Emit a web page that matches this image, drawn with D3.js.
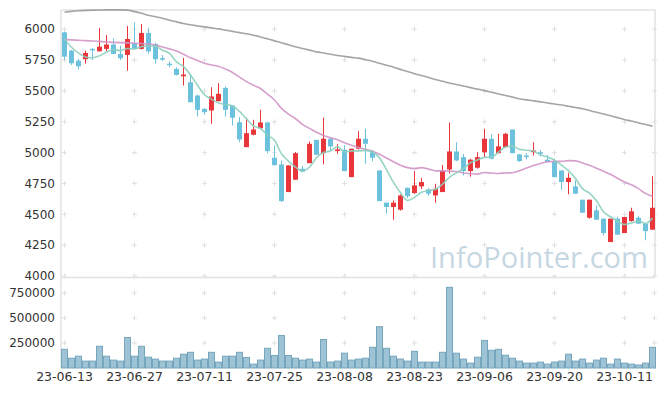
<!DOCTYPE html>
<meta charset="utf-8">
<style>
body { margin: 0; background: #fff; }
text { font-family: "DejaVu Sans", sans-serif; }
</style>
<body>
<svg id="chart" width="665" height="396"></svg>
</body>
<script src="https://d3js.org/d3.v7.min.js"></script>
<script>
// trading days (yy-mm-dd)
const dates = [
  "23-06-13","23-06-14","23-06-15","23-06-16","23-06-19","23-06-20","23-06-21","23-06-22","23-06-23","23-06-26",
  "23-06-27","23-06-28","23-06-29","23-06-30","23-07-03","23-07-04","23-07-05","23-07-06","23-07-07","23-07-10",
  "23-07-11","23-07-12","23-07-13","23-07-14","23-07-17","23-07-18","23-07-19","23-07-20","23-07-21","23-07-24",
  "23-07-25","23-07-26","23-07-27","23-07-28","23-07-31","23-08-01","23-08-02","23-08-03","23-08-04","23-08-07",
  "23-08-08","23-08-09","23-08-10","23-08-11","23-08-14","23-08-16","23-08-17","23-08-18","23-08-21","23-08-22",
  "23-08-23","23-08-24","23-08-25","23-08-28","23-08-29","23-08-30","23-08-31","23-09-01","23-09-04","23-09-05",
  "23-09-06","23-09-07","23-09-08","23-09-11","23-09-12","23-09-13","23-09-14","23-09-15","23-09-18","23-09-19",
  "23-09-20","23-09-21","23-09-22","23-09-25","23-09-26","23-09-27","23-10-04","23-10-05","23-10-06","23-10-10",
  "23-10-11","23-10-12","23-10-13","23-10-16","23-10-17"
];
const openP = [
  5974,5826,5745,5756,5840,5820,5840,5875,5799,5791,5885,5840,5969,5880,5765,5720,5678,5618,5570,5462,
  5354,5341,5416,5524,5381,5246,5044,5144,5197,5244,4958,4904,4680,4780,4869,4914,5103,4995,5112,5012,
  5023,4801,5031,5112,5003,4855,4594,4559,4537,4715,4672,4726,4702,4653,4680,4863,5009,4963,4850,4877,
  5003,5112,4995,5044,5187,4985,4975,5003,5003,4942,4930,4855,4761,4726,4618,4472,4532,4464,4275,4464,
  4348,4445,4472,4424,4375
];
const highP = [
  5980,5830,5760,5826,5845,6010,5952,5925,5866,6026,6055,6042,6010,5890,5790,5740,5690,5767,5632,5470,
  5360,5529,5562,5535,5381,5286,5282,5265,5346,5250,5057,4935,4896,5005,4890,5090,5103,5282,5120,5071,
  5060,5031,5173,5193,5020,4855,4594,4612,4660,4715,4850,4795,4710,4747,4900,5244,5084,4990,4950,5003,
  5193,5147,5152,5160,5187,4990,4995,5084,5020,4980,4950,4855,4836,4774,4618,4618,4572,4470,4464,4480,
  4480,4553,4485,4430,4809
];
const lowP = [
  5751,5710,5672,5720,5750,5820,5820,5800,5750,5662,5840,5835,5800,5720,5740,5690,5625,5543,5408,5292,
  5306,5233,5416,5292,5219,5084,5044,5140,5197,4995,4895,4600,4680,4780,4840,4914,4982,4904,5012,4990,
  4850,4801,5025,4909,4930,4607,4505,4456,4530,4630,4665,4705,4650,4594,4680,4830,4930,4815,4805,4870,
  4963,4945,4995,5040,4995,4925,4945,4976,4970,4920,4800,4699,4661,4667,4513,4465,4456,4329,4275,4335,
  4348,4440,4420,4289,4375
];
const closeP = [
  5777,5723,5699,5807,5832,5858,5875,5799,5764,5920,5840,5969,5820,5756,5759,5713,5629,5632,5408,5346,
  5327,5454,5476,5346,5282,5106,5157,5187,5244,5012,4898,4607,4896,4995,4847,5071,4982,5112,5050,5025,
  4850,5031,5112,5071,4958,4607,4559,4594,4653,4647,4734,4761,4667,4707,4855,5009,4936,4850,4942,4963,
  5112,4950,5050,5152,4995,4931,4965,5017,4990,4923,4801,4761,4796,4667,4513,4618,4456,4348,4464,4335,
  4478,4524,4424,4364,4553
];
const volume = [
  187000,98000,118000,69000,69000,217000,118000,79000,69000,305000,118000,217000,108000,89000,69000,69000,98000,138000,157000,79000,
  89000,157000,59000,118000,118000,157000,105000,39000,79000,197000,125000,325000,125000,98000,79000,89000,59000,285000,59000,69000,
  148000,79000,89000,98000,207000,413000,197000,118000,89000,69000,167000,59000,59000,59000,157000,807000,148000,89000,49000,108000,
  276000,177000,187000,128000,98000,69000,49000,49000,59000,39000,59000,69000,138000,69000,89000,49000,79000,98000,39000,89000,
  49000,39000,30000,49000,207000
];
const ma5 = [
  5921,5853,5805,5775,5768,5784,5814,5834,5826,5843,5840,5858,5863,5861,5829,5803,5735,5698,5628,5546,
  5468,5433,5402,5390,5377,5333,5273,5216,5195,5141,5100,4990,4931,4882,4849,4883,4958,5001,5012,5048,
  5004,5014,5014,5018,5004,4956,4861,4758,4674,4612,4637,4678,4692,4703,4745,4800,4835,4871,4918,4940,
  4961,4963,5003,5045,5052,5026,5019,5012,4980,4965,4939,4898,4854,4790,4708,4671,4610,4520,4480,4444,
  4416,4430,4445,4425,4469
];
const ma20 = [
  5915,5913,5910,5907,5904,5900,5896,5893,5891,5889,5886,5883,5879,5870,5856,5840,5822,5797,5768,5746,
  5724,5710,5699,5676,5649,5611,5575,5545,5519,5473,5426,5358,5312,5274,5228,5196,5164,5138,5120,5104,
  5080,5059,5041,5027,5011,4986,4956,4926,4897,4878,4870,4878,4866,4852,4852,4849,4847,4834,4828,4825,
  4838,4834,4831,4835,4837,4853,4874,4895,4912,4925,4929,4929,4935,4933,4916,4897,4873,4848,4824,4792,
  4761,4739,4708,4669,4646
];
const ma60 = [
  6137,6144,6149,6152,6154,6155,6156,6156,6156,6154,6142,6128,6112,6100,6088,6072,6059,6046,6035,6026,
  6018,6010,6002,5992,5982,5972,5962,5950,5937,5922,5905,5890,5873,5857,5843,5830,5816,5807,5796,5786,
  5779,5771,5765,5752,5740,5723,5707,5692,5674,5656,5639,5624,5608,5592,5578,5563,5551,5539,5526,5514,
  5502,5489,5475,5462,5449,5436,5427,5419,5411,5402,5393,5385,5375,5365,5355,5341,5326,5312,5298,5283,
  5268,5255,5241,5227,5214
];
const priceTicks = [4000,4250,4500,4750,5000,5250,5500,5750,6000];
const volTicks = [250000,500000,750000];
const dateTicks = ["23-06-13","23-06-27","23-07-11","23-07-25","23-08-08","23-08-23","23-09-06","23-09-20","23-10-11"];

const data = dates.map((d, i) => ({
  date: d, open: openP[i], high: highP[i], low: lowP[i], close: closeP[i],
  vol: volume[i], ma5: ma5[i], ma20: ma20[i], ma60: ma60[i]
}));

const svg = d3.select('#chart');
const left = 61, right = 656;
const pTop = 10, pBottom = 277, vBottom = 368;

const x = d3.scaleBand().domain(dates).range([left, right]).padding(0);
const y = d3.scaleLinear().domain([4000, 6155]).range([276, pTop]);
const yv = d3.scaleLinear().domain([0, 880000]).range([vBottom, 280]);

const frame = '#e2e2e2';
const gridC = '#e0e0e0';

// watermark
svg.append('text')
  .attr('x', 430).attr('y', 268)
  .attr('textLength', 218).attr('lengthAdjust', 'spacingAndGlyphs')
  .style('font-family', '"Open Sans", sans-serif')
  .style('font-size', '30px')
  .attr('fill', '#c6d7e2')
  .text('InfoPointer.com');

// grid crosses
const gx = dateTicks.map(d => x(d) + x.bandwidth() / 2).concat([right - 1.5]);
const crosses = [];
gx.forEach(cx => {
  priceTicks.forEach(t => crosses.push([cx, y(t)]));
  volTicks.forEach(t => crosses.push([cx, yv(t)]));
});
svg.append('g').selectAll('path').data(crosses).enter().append('path')
  .attr('d', d => `M${d[0]-2.5},${d[1]}H${d[0]+2.5}M${d[0]},${d[1]-2.5}V${d[1]+2.5}`)
  .attr('stroke', gridC).attr('stroke-width', 1).attr('fill', 'none');

// frames
svg.append('path')
  .attr('d', `M${left},${pTop}H${right - 1}V${pBottom}M${left},${pTop}V${vBottom}M${left},${pBottom + 0.5}H${right - 1}`)
  .attr('stroke', frame).attr('stroke-width', 1.5).attr('fill', 'none');

// volume bars
svg.append('g').selectAll('rect').data(data).enter().append('rect')
  .attr('x', d => x(d.date) + 0.5)
  .attr('width', x.bandwidth() - 1)
  .attr('y', d => yv(d.vol))
  .attr('height', d => yv(0) - yv(d.vol))
  .attr('fill', '#9dc3d4')
  .attr('stroke', '#76a6be')
  .attr('stroke-width', 1);

// candles
const up = '#e8363b', down = '#6cc2dc';
const candle = svg.append('g').selectAll('g').data(data).enter().append('g');
candle.append('line')
  .attr('x1', d => x(d.date) + x.bandwidth() / 2)
  .attr('x2', d => x(d.date) + x.bandwidth() / 2)
  .attr('y1', d => y(d.high)).attr('y2', d => y(d.low))
  .attr('stroke', d => d.close >= d.open ? up : down)
  .attr('stroke-width', 1);
candle.append('rect')
  .attr('x', d => x(d.date) + 1)
  .attr('width', x.bandwidth() - 2)
  .attr('y', d => y(Math.max(d.open, d.close)))
  .attr('height', d => Math.max(1.5, Math.abs(y(d.open) - y(d.close))))
  .attr('fill', d => d.close >= d.open ? up : down);

// moving averages
const lineOf = key => d3.line()
  .x(d => x(d.date) + x.bandwidth() / 2)
  .y(d => y(d[key]))
  .curve(d3.curveMonotoneX);
[['ma60', '#9b9b9b'], ['ma20', '#d293c8'], ['ma5', '#8ccfbe']].forEach(([k, c]) => {
  svg.append('path').datum(data)
    .attr('d', lineOf(k))
    .attr('fill', 'none')
    .attr('stroke', c)
    .attr('stroke-width', 1.6)
    .attr('opacity', 0.9);
});

// axes
const yAxis = svg.append('g')
  .attr('transform', `translate(${left},0)`)
  .call(d3.axisLeft(y).tickValues(priceTicks).tickFormat(d3.format('d')).tickSize(0).tickPadding(6));
const vAxis = svg.append('g')
  .attr('transform', `translate(${left},0)`)
  .call(d3.axisLeft(yv).tickValues(volTicks).tickFormat(d3.format('d')).tickSize(0).tickPadding(6));
const xAxis = svg.append('g')
  .attr('transform', `translate(0,${vBottom})`)
  .call(d3.axisBottom(x).tickValues(dateTicks).tickSize(0).tickPadding(4));
[yAxis, vAxis, xAxis].forEach(a => {
  a.select('.domain').remove();
  a.selectAll('text').attr('fill', '#333').style('font-size', '12px').style('font-family', '"DejaVu Sans", sans-serif');
});
xAxis.selectAll('text').style('font-size', '12.5px');
</script>
